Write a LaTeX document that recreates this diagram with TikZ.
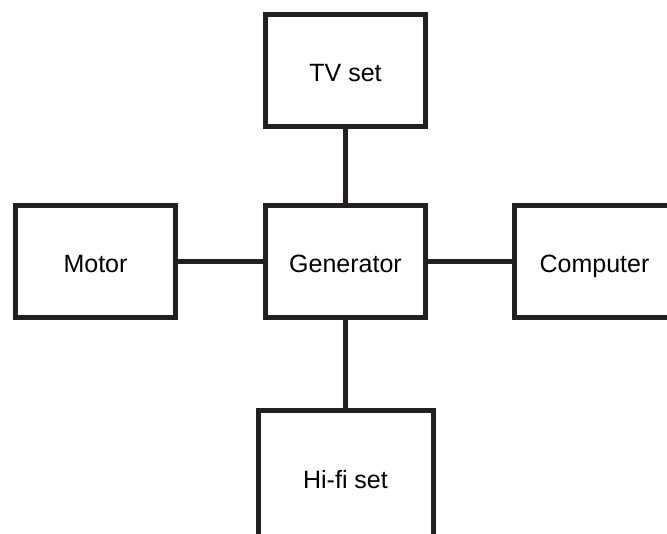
\documentclass[tikz,border=0pt]{standalone}
\usepackage{fontspec}
\setmainfont{Liberation Sans}
\usepackage{tikz}

\begin{document}
\begin{tikzpicture}[x=1pt,y=-1pt,unit/.style={shape=rectangle,draw=ink,line width=5pt,minimum width=160pt,minimum height=112pt,text height=2.4em,text depth=0.2em,font=\fontsize{25}{30}\selectfont},unitW/.style={unit,minimum width=175pt,minimum height=135pt},link/.style={draw=ink,line width=5pt}]
\definecolor{ink}{HTML}{231F20}
\def\cx{345.5};
\def\cy{261.5};

\useasboundingbox (0,0) rectangle (667,534);

\node[unit] (G) at (\cx,\cy) {Generator};

\node[unit] (T) at (\cx,70.5) {TV set};
\draw[link] (G.north) -- (T.south);
\node[unit] (M) at (95.5,\cy) {Motor};
\draw[link] (G.west) -- (M.east);
\node[unit] (C) at (594.5,\cy) {Computer};
\draw[link] (G.east) -- (C.west);
\node[unitW] (H) at (\cx,478) {Hi-fi set};
\draw[link] (G.south) -- (H.north);
\end{tikzpicture}
\end{document}
